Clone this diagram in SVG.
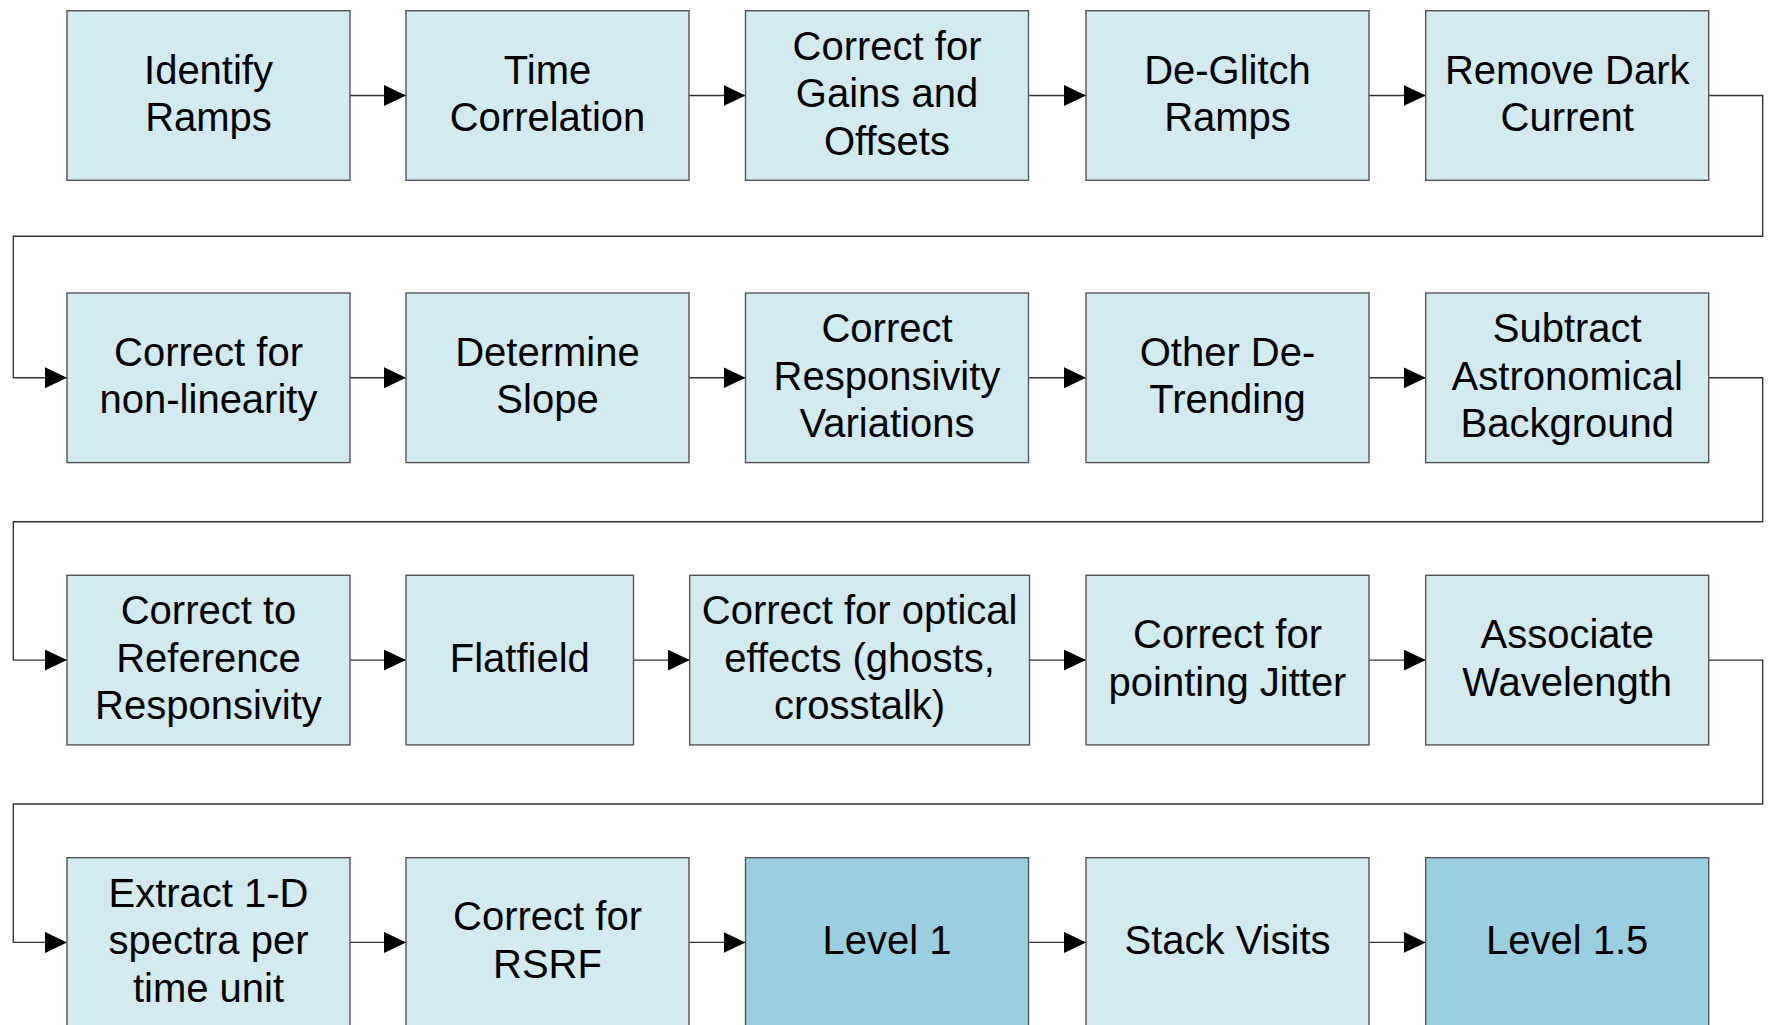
<svg xmlns="http://www.w3.org/2000/svg" width="1774" height="1025" viewBox="0 0 1774 1025">
  <defs>
    <style>
      .box { fill: #D2EAF0; stroke: #555555; stroke-width: 1.4; }
      .lvl { fill: #99CFDE; stroke: #555555; stroke-width: 1.4; }
      .lbl { font-family: "Liberation Sans", Arial, sans-serif; font-size: 40px; fill: #000000; text-anchor: middle; }
      .wire { fill: none; stroke: #333333; stroke-width: 1.4; }
    </style>
    <marker id="head" markerUnits="userSpaceOnUse" markerWidth="23" markerHeight="22" refX="22" refY="10.5" orient="auto">
      <path d="M0,0 L22,10.5 L0,21 Z" fill="#000000"/>
    </marker>
  </defs>

  <rect width="1774" height="1025" fill="#FFFFFF"/>

  <!-- connectors -->
  <g id="connectors">
    <!-- row 1 -->
    <line class="wire" x1="350" y1="95.5" x2="406" y2="95.5" marker-end="url(#head)"/>
    <line class="wire" x1="689" y1="95.5" x2="745.5" y2="95.5" marker-end="url(#head)"/>
    <line class="wire" x1="1028.5" y1="95.5" x2="1086" y2="95.5" marker-end="url(#head)"/>
    <line class="wire" x1="1369" y1="95.5" x2="1425.7" y2="95.5" marker-end="url(#head)"/>
    <polyline class="wire" points="1708.7,95.5 1762.7,95.5 1762.7,236.3 13.3,236.3 13.3,377.8 67,377.8" marker-end="url(#head)"/>
    <!-- row 2 -->
    <line class="wire" x1="350" y1="377.8" x2="406" y2="377.8" marker-end="url(#head)"/>
    <line class="wire" x1="689" y1="377.8" x2="745.5" y2="377.8" marker-end="url(#head)"/>
    <line class="wire" x1="1028.5" y1="377.8" x2="1086" y2="377.8" marker-end="url(#head)"/>
    <line class="wire" x1="1369" y1="377.8" x2="1425.7" y2="377.8" marker-end="url(#head)"/>
    <polyline class="wire" points="1708.7,377.8 1762.7,377.8 1762.7,521.7 13.3,521.7 13.3,660.1 67,660.1" marker-end="url(#head)"/>
    <!-- row 3 -->
    <line class="wire" x1="350" y1="660.1" x2="406" y2="660.1" marker-end="url(#head)"/>
    <line class="wire" x1="633.5" y1="660.1" x2="689.7" y2="660.1" marker-end="url(#head)"/>
    <line class="wire" x1="1029.5" y1="660.1" x2="1086" y2="660.1" marker-end="url(#head)"/>
    <line class="wire" x1="1369" y1="660.1" x2="1425.7" y2="660.1" marker-end="url(#head)"/>
    <polyline class="wire" points="1708.7,660.1 1762.7,660.1 1762.7,804 13.3,804 13.3,942.4 67,942.4" marker-end="url(#head)"/>
    <!-- row 4 -->
    <line class="wire" x1="350" y1="942.4" x2="406" y2="942.4" marker-end="url(#head)"/>
    <line class="wire" x1="689" y1="942.4" x2="745.5" y2="942.4" marker-end="url(#head)"/>
    <line class="wire" x1="1028.5" y1="942.4" x2="1086" y2="942.4" marker-end="url(#head)"/>
    <line class="wire" x1="1369" y1="942.4" x2="1425.7" y2="942.4" marker-end="url(#head)"/>
  </g>

  <!-- row 1 -->
  <g id="identify-ramps">
    <rect class="box" x="67" y="10.7" width="283" height="169.6"/>
    <text class="lbl" x="208.5" y="83.6">Identify</text>
    <text class="lbl" x="208.5" y="131.1">Ramps</text>
  </g>
  <g id="time-correlation">
    <rect class="box" x="406" y="10.7" width="283" height="169.6"/>
    <text class="lbl" x="547.5" y="83.6">Time</text>
    <text class="lbl" x="547.5" y="131.1">Correlation</text>
  </g>
  <g id="gains-offsets">
    <rect class="box" x="745.5" y="10.7" width="283" height="169.6"/>
    <text class="lbl" x="887" y="59.8">Correct for</text>
    <text class="lbl" x="887" y="107.3">Gains and</text>
    <text class="lbl" x="887" y="154.8">Offsets</text>
  </g>
  <g id="deglitch-ramps">
    <rect class="box" x="1086" y="10.7" width="283" height="169.6"/>
    <text class="lbl" x="1227.5" y="83.6">De-Glitch</text>
    <text class="lbl" x="1227.5" y="131.1">Ramps</text>
  </g>
  <g id="dark-current">
    <rect class="box" x="1425.7" y="10.7" width="283" height="169.6"/>
    <text class="lbl" x="1567.2" y="83.6">Remove Dark</text>
    <text class="lbl" x="1567.2" y="131.1">Current</text>
  </g>

  <!-- row 2 -->
  <g id="non-linearity">
    <rect class="box" x="67" y="293" width="283" height="169.6"/>
    <text class="lbl" x="208.5" y="365.8">Correct for</text>
    <text class="lbl" x="208.5" y="413.3">non-linearity</text>
  </g>
  <g id="determine-slope">
    <rect class="box" x="406" y="293" width="283" height="169.6"/>
    <text class="lbl" x="547.5" y="365.8">Determine</text>
    <text class="lbl" x="547.5" y="413.3">Slope</text>
  </g>
  <g id="responsivity-variations">
    <rect class="box" x="745.5" y="293" width="283" height="169.6"/>
    <text class="lbl" x="887" y="342.1">Correct</text>
    <text class="lbl" x="887" y="389.6">Responsivity</text>
    <text class="lbl" x="887" y="437.1">Variations</text>
  </g>
  <g id="other-detrending">
    <rect class="box" x="1086" y="293" width="283" height="169.6"/>
    <text class="lbl" x="1227.5" y="365.8">Other De-</text>
    <text class="lbl" x="1227.5" y="413.3">Trending</text>
  </g>
  <g id="astro-background">
    <rect class="box" x="1425.7" y="293" width="283" height="169.6"/>
    <text class="lbl" x="1567.2" y="342.1">Subtract</text>
    <text class="lbl" x="1567.2" y="389.6">Astronomical</text>
    <text class="lbl" x="1567.2" y="437.1">Background</text>
  </g>

  <!-- row 3 -->
  <g id="reference-responsivity">
    <rect class="box" x="67" y="575.3" width="283" height="169.6"/>
    <text class="lbl" x="208.5" y="624.4">Correct to</text>
    <text class="lbl" x="208.5" y="671.9">Reference</text>
    <text class="lbl" x="208.5" y="719.4">Responsivity</text>
  </g>
  <g id="flatfield">
    <rect class="box" x="406" y="575.3" width="227.5" height="169.6"/>
    <text class="lbl" x="519.75" y="671.9">Flatfield</text>
  </g>
  <g id="optical-effects">
    <rect class="box" x="689.7" y="575.3" width="339.8" height="169.6"/>
    <text class="lbl" x="859.6" y="624.4">Correct for optical</text>
    <text class="lbl" x="859.6" y="671.9">effects (ghosts,</text>
    <text class="lbl" x="859.6" y="719.4">crosstalk)</text>
  </g>
  <g id="pointing-jitter">
    <rect class="box" x="1086" y="575.3" width="283" height="169.6"/>
    <text class="lbl" x="1227.5" y="648.2">Correct for</text>
    <text class="lbl" x="1227.5" y="695.7">pointing Jitter</text>
  </g>
  <g id="associate-wavelength">
    <rect class="box" x="1425.7" y="575.3" width="283" height="169.6"/>
    <text class="lbl" x="1567.2" y="648.2">Associate</text>
    <text class="lbl" x="1567.2" y="695.7">Wavelength</text>
  </g>

  <!-- row 4 -->
  <g id="extract-spectra">
    <rect class="box" x="67" y="857.7" width="283" height="169.6"/>
    <text class="lbl" x="208.5" y="906.5">Extract 1-D</text>
    <text class="lbl" x="208.5" y="954">spectra per</text>
    <text class="lbl" x="208.5" y="1001.5">time unit</text>
  </g>
  <g id="rsrf">
    <rect class="box" x="406" y="857.7" width="283" height="169.6"/>
    <text class="lbl" x="547.5" y="930.2">Correct for</text>
    <text class="lbl" x="547.5" y="977.7">RSRF</text>
  </g>
  <g id="level-1">
    <rect class="lvl" x="745.5" y="857.7" width="283" height="169.6"/>
    <text class="lbl" x="887" y="954">Level 1</text>
  </g>
  <g id="stack-visits">
    <rect class="box" x="1086" y="857.7" width="283" height="169.6"/>
    <text class="lbl" x="1227.5" y="954">Stack Visits</text>
  </g>
  <g id="level-1-5">
    <rect class="lvl" x="1425.7" y="857.7" width="283" height="169.6"/>
    <text class="lbl" x="1567.2" y="954">Level 1.5</text>
  </g>
</svg>
